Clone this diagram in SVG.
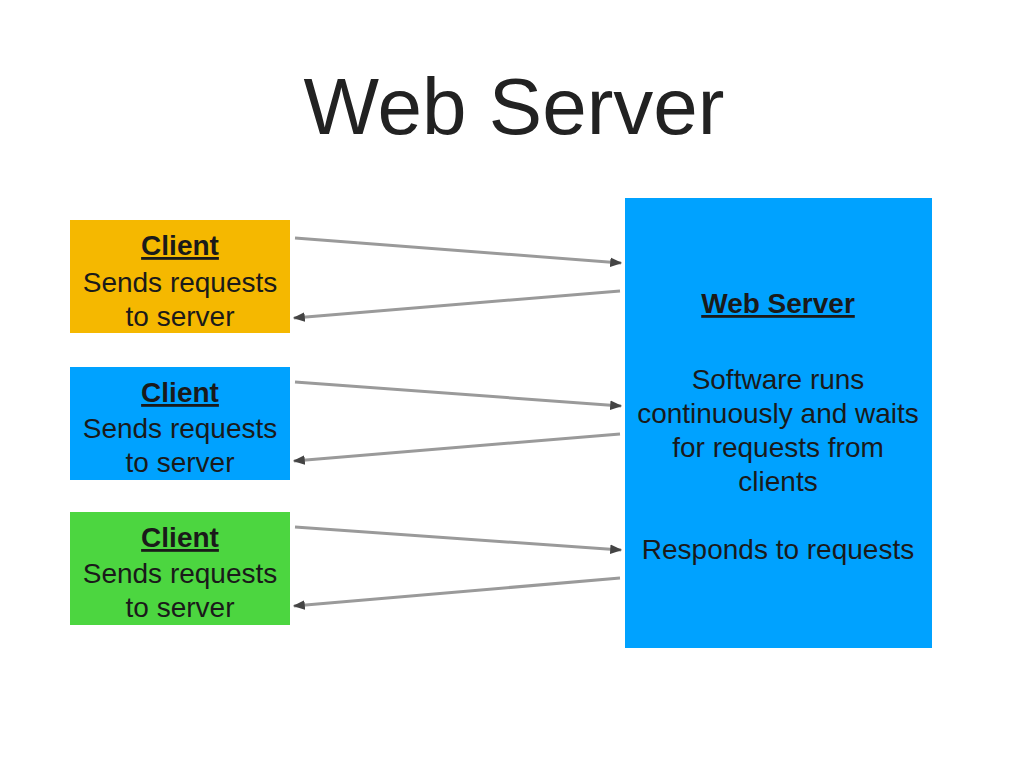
<svg xmlns="http://www.w3.org/2000/svg" width="1024" height="768" viewBox="0 0 1024 768">
<defs>
<marker id="ah" viewBox="0 0 10 10" refX="9" refY="5" markerWidth="4" markerHeight="4" orient="auto" markerUnits="strokeWidth">
<path d="M0,1 L10,5 L0,9 z" fill="#444"/>
</marker>
<style>
text{font-family:"Liberation Sans",Arial,sans-serif;fill:#1a1a1a;text-anchor:middle}
.title{font-size:80px;fill:#222}
.t{font-size:28px}
.h{font-size:28px;font-weight:bold;text-decoration:underline}
.c{stroke:#9a9a9a;stroke-width:3;fill:none;marker-end:url(#ah)}
</style>
</defs>
<rect width="1024" height="768" fill="#fff"/>
<text class="title" x="514" y="134">Web Server</text>
<g id="client1">
<rect x="70" y="220" width="220" height="113" fill="#F5B800"/>
<text class="h" x="180" y="255">Client</text>
<text class="t" x="180" y="292">Sends requests</text>
<text class="t" x="180" y="326">to server</text>
</g>
<g id="client2">
<rect x="70" y="367" width="220" height="113" fill="#00A2FF"/>
<text class="h" x="180" y="402">Client</text>
<text class="t" x="180" y="438">Sends requests</text>
<text class="t" x="180" y="472">to server</text>
</g>
<g id="client3">
<rect x="70" y="512" width="220" height="113" fill="#4CD640"/>
<text class="h" x="180" y="547">Client</text>
<text class="t" x="180" y="583">Sends requests</text>
<text class="t" x="180" y="617">to server</text>
</g>
<g id="server">
<rect x="625" y="198" width="307" height="450" fill="#00A2FF"/>
<text class="h" x="778" y="313">Web Server</text>
<text class="t" x="778" y="389">Software runs</text>
<text class="t" x="778" y="423">continuously and waits</text>
<text class="t" x="778" y="457">for requests from</text>
<text class="t" x="778" y="491">clients</text>
<text class="t" x="778" y="559">Responds to requests</text>
</g>
<g id="connectors">
<line class="c" x1="295" y1="238" x2="621" y2="263"/>
<line class="c" x1="620" y1="291" x2="294" y2="318"/>
<line class="c" x1="295" y1="382" x2="621" y2="406"/>
<line class="c" x1="620" y1="434" x2="294" y2="461"/>
<line class="c" x1="295" y1="527" x2="621" y2="550"/>
<line class="c" x1="620" y1="578" x2="294" y2="606"/>
</g>
</svg>
